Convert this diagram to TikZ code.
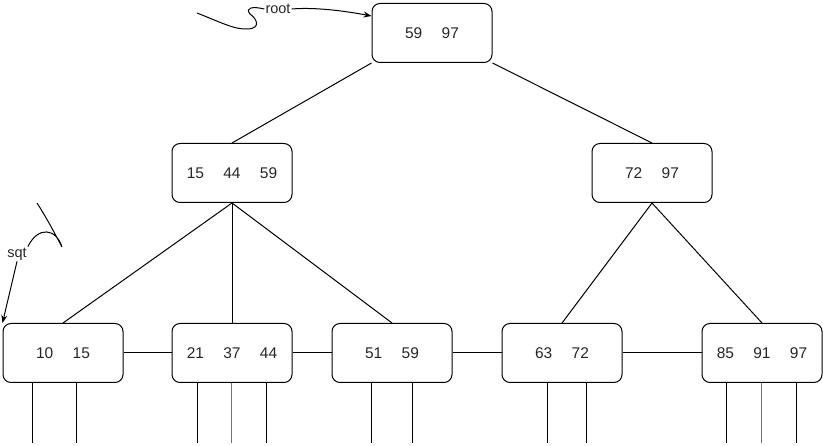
\documentclass[tikz,border=0pt]{standalone}
\usepackage{fontspec}
\setmainfont{Liberation Sans}
\usetikzlibrary{positioning,arrows.meta,calc}

\newcommand{\keysep}{\hspace{1.25em}}

\begin{document}
\begin{tikzpicture}[
          x=1pt, y=-1pt,
          every node/.style={font=\fontsize{15.5}{18}\selectfont, text=black!85},
          keybox/.style={draw, line width=1pt, rounded corners=8pt, minimum width=120pt, minimum height=59pt, inner sep=0pt},
          link/.style={line width=1pt},
          ptr/.style={line width=1pt},
          lbl/.style={font=\fontsize{14.5}{16}\selectfont, inner sep=1pt},
          tip/.style={-{Stealth[length=8pt,width=6pt]}, line width=1pt}
      ]
        \useasboundingbox (0,0) rectangle (823,446);

        % inner levels
        \node[keybox] (root) at (432,33) {59\keysep 97};
        \node[keybox] (midl) at (232,173) {15\keysep 44\keysep 59};
        \node[keybox] (midr) at (652,173) {72\keysep 97};

        % leaves
        \node[keybox] (l1) at (63,353) {10\keysep 15};
        \node[keybox] (l2) at (232,353) {21\keysep 37\keysep 44};
        \node[keybox] (l3) at (392,353) {51\keysep 59};
        \node[keybox] (l4) at (562,353) {63\keysep 72};
        \node[keybox] (l5) at (762,353) {85\keysep 91\keysep 97};

        \draw[link] (root.south west) -- (midl.north);
        \draw[link] (root.south east) -- (midr.north);
        \foreach \leaf in {l1,l2,l3} \draw[link] (midl.south) -- (\leaf.north);
        \foreach \leaf in {l4,l5} \draw[link] (midr.south) -- (\leaf.north);

        % leaf chain
        \draw[link] (l1.east) -- (l2.west);
        \draw[link] (l2.east) -- (l3.west);
        \draw[link] (l3.east) -- (l4.west);
        \draw[link] (l4.east) -- (l5.west);

        % record pointers
        \foreach \leaf/\dx in {l1/30,l1/74,l2/26,l2/95,l3/40,l3/81,l4/46,l4/85,l5/25,l5/95}
          \draw[ptr] ([xshift=\dx pt]\leaf.south west) -- ++(0,60);
        \foreach \leaf in {l2,l5}
          \draw[ptr, line width=1.6pt, black!55] ([xshift=60pt]\leaf.south west) -- ++(0,60);

        % root pointer
        \coordinate (rs) at (197,13);
        \node[lbl] (rootlbl) at (278,9) {root};
        \draw[line width=1pt] (rs) .. controls (220,22) and (235,30) .. (248,29)
              .. controls (262,28) and (256,18) .. (250,14)
              .. controls (245,8) and (252,6) .. (rootlbl.west);
        \draw[tip] (rootlbl.east) .. controls (315,7) and (345,11) .. ($(root.north west)+(0,13)$);

        % sequential pointer
        \coordinate (ss) at (37,203);
        \node[lbl] (sqtlbl) at (17,254) {sqt};
        \draw[line width=1pt] (ss) .. controls (48,220) and (56,236) .. (62,247)
              .. controls (56,228) and (38,226) .. (sqtlbl.north east);
        \draw[tip] (sqtlbl.south) -- (l1.north west);
      \end{tikzpicture}
\end{document}
